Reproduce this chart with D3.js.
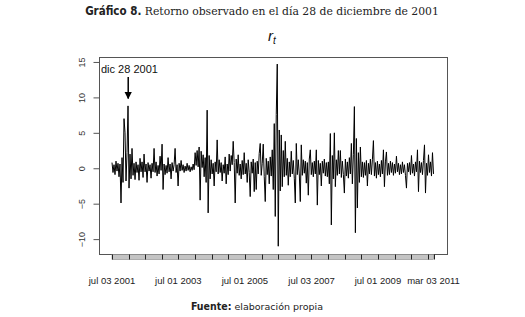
<!DOCTYPE html>
<html>
<head>
<meta charset="utf-8">
<script src="https://cdn.jsdelivr.net/npm/d3@7"></script>
<style>
  body { margin: 0; background: #fff; }
  svg { display: block; }
</style>
</head>
<body>
<div id="chart"></div>
<script>
const startDate = '2001-07-03';
const endDate = '2011-03-03';
const returns = [
  0.8, -0.6, 0.5, -0.9, 1.0, -0.4, 0.7, -1.2, 0.6, -4.9,
  1.5, -2.0, 7.0, 5.0, -1.8, 2.2, 8.8, -2.8, 2.0, -1.5,
  2.8, -1.0, 0.7, -1.6, 0.9, -0.6, 0.5, -1.7, 1.4, -0.5,
  0.9, -1.3, 2.0, -0.5, 0.6, -2.0, 0.8, -0.4, 0.5, -1.4,
  0.7, -0.5, 2.8, -0.6, 0.9, -1.1, 0.4, -0.8, 1.7, -0.3,
  3.4, -3.0, 0.6, -0.9, 0.4, -0.7, 1.5, -0.5, 0.6, -1.5,
  0.8, -0.4, 0.5, 2.8, -0.6, 0.5, -2.5, 0.7, -0.4, 1.1,
  -0.3, 0.5, -0.6, 0.3, -0.4, 0.7, -0.3, 0.4, -0.5, 0.2,
  -0.3, 0.6, -0.2, 2.2, 0.4, 2.5, 0.2, 3.0, -4.5, 2.4,
  0.1, 1.9, -1.2, 1.5, -2.0, 8.2, -6.3, 1.8, -1.5, 1.2,
  -0.8, 0.7, -2.5, 0.9, -0.5, 4.0, -0.8, 1.2, -0.6, 0.8,
  -1.8, 0.5, -0.7, 1.6, -2.2, 0.6, -0.9, 2.0, -0.4, 1.8,
  0.5, 3.8, 0.8, -4.9, 1.3, -0.7, 1.9, -1.0, 0.6, -1.5,
  1.1, -0.9, 2.2, -0.8, 0.7, -2.0, 1.2, -0.6, -4.0, 0.9,
  -0.7, 1.3, -3.3, 0.8, -3.0, 1.0, -0.8, 2.1, 3.5, -1.0,
  0.7, 3.4, -1.2, -4.7, 1.4, -0.9, 1.0, -2.2, 1.6, -1.1,
  2.6, -3.0, 6.3, -6.8, 7.6, 14.7, -11.0, 5.4, -3.2, 4.7,
  -2.6, 2.5, -1.2, 3.8, -1.0, 1.4, -2.4, 0.9, -1.2, 2.4,
  -0.8, 1.1, -1.4, -4.9, 3.5, -0.9, 1.2, -0.8, -4.7, 3.3,
  -1.0, 1.2, -0.7, 1.0, -2.1, 0.8, -3.8, 1.3, 2.6, -0.9,
  0.8, -1.2, 1.0, -0.8, 2.6, -5.2, 1.1, -0.9, 0.7, -2.5,
  1.0, -0.7, 1.3, -1.1, 0.8, -1.2, 0.9, -2.2, 4.9, -8.0,
  1.8, -1.5, 5.0, -2.6, 1.2, -1.0, 2.5, -0.8, 2.5, -1.3,
  1.0, -0.9, -3.5, 1.3, -1.1, 0.9, -1.4, 1.5, -0.8, 3.5,
  -2.2, 1.9, 8.7, -9.1, 4.2, -5.6, 2.2, -2.0, 3.0, -1.2,
  0.9, -1.3, 0.8, -1.0, 1.1, -2.5, 0.7, -0.8, 1.3, -0.9,
  1.2, 3.9, -1.1, 0.8, -1.4, 1.0, -0.9, 0.6, -1.2, 1.1,
  -0.8, 2.6, -2.6, 0.9, 2.3, -1.0, 0.7, -0.9, 1.0, -0.6,
  0.8, -1.0, 0.6, -0.7, 1.7, -0.5, 0.7, -0.9, 0.5, -0.8,
  0.9, -0.6, 0.5, -1.0, -2.8, 0.7, -0.5, 0.8, -0.9, 1.8,
  -0.7, 0.6, -1.1, 0.9, -0.5, 2.6, -3.3, 1.0, -0.6, 0.8,
  -0.9, 1.1, 3.3, -3.5, 0.7, -1.0, 1.9, -0.6, 0.9, -1.1,
  2.2, -0.8
];
const yTicks = [-10, -5, 0, 5, 10, 15];
const xLabelDates = ['2001-07-03', '2003-07-01', '2005-07-01', '2007-07-03', '2009-07-01', '2011-03-03'];
const xLabels = ['jul 03 2001', 'jul 01 2003', 'jul 01 2005', 'jul 03 2007', 'jul 01 2009', 'mar 03 2011'];
const annotDate = '2001-12-28';
const annotText = 'dic 28 2001';

const W = 525, H = 317;
const box = {left: 99, right: 447, top: 57, bottom: 254};
const parse = d3.timeParse('%Y-%m-%d');

const svg = d3.select('#chart').append('svg')
    .attr('width', W)
    .attr('height', H);

const t0 = parse(startDate), t1 = parse(endDate);
const dateAt = d3.scaleLinear().domain([0, returns.length - 1]).range([+t0, +t1]);
const data = returns.map((v, i) => ({date: new Date(dateAt(i)), value: v}));

const x = d3.scaleTime().domain([t0, t1]).range([112, 433.5]);
const y = d3.scaleLinear().domain([-12.1, 15.7]).range([box.bottom, box.top]);

// title
const title = svg.append('text')
    .attr('x', 262)
    .attr('y', 15)
    .attr('text-anchor', 'middle')
    .style('fill', '#222');
title.append('tspan')
    .style('font-family', "'Liberation Sans Narrow', 'DejaVu Sans Condensed', sans-serif")
    .style('font-weight', 'bold')
    .style('font-size', '11.5px')
    .text('Gráfico 8.');
title.append('tspan')
    .style('font-family', "'DejaVu Serif', serif")
    .style('font-size', '10.8px')
    .text(' Retorno observado en el día 28 de diciembre de 2001');

// r_t
const rt = svg.append('text')
    .attr('x', 272)
    .attr('y', 41)
    .attr('text-anchor', 'middle')
    .style('font-family', "'Liberation Sans', Arial, sans-serif")
    .style('font-style', 'italic')
    .style('font-size', '15px')
    .style('fill', '#111');
rt.append('tspan').text('r');
rt.append('tspan').attr('dy', 3).style('font-size', '10px').text('t');

// series
svg.append('path')
    .datum(data)
    .attr('d', d3.line().x(d => x(d.date)).y(d => y(d.value)))
    .style('fill', 'none')
    .style('stroke', '#000')
    .style('stroke-width', 1);

// frame
svg.append('rect')
    .attr('x', box.left + 0.5)
    .attr('y', box.top + 0.5)
    .attr('width', box.right - box.left)
    .attr('height', box.bottom - box.top)
    .style('fill', 'none')
    .style('stroke', '#555')
    .style('stroke-width', 1);

// y axis
const yAxis = svg.append('g')
    .attr('transform', `translate(${box.left + 0.5},0)`)
    .call(d3.axisLeft(y).tickValues(yTicks).tickSize(6));
yAxis.select('.domain').remove();
yAxis.selectAll('line').style('stroke', '#555');
yAxis.selectAll('text')
    .attr('transform', 'rotate(-90)')
    .attr('x', 0)
    .attr('y', -15)
    .attr('dy', '0')
    .style('text-anchor', 'middle')
    .style('font-family', "'Liberation Sans', Arial, sans-serif")
    .style('font-size', '9px')
    .style('fill', '#333');

// x axis: gray band with half-year ticks
const xa = svg.append('g');
xa.append('rect')
    .attr('x', x(t0))
    .attr('y', box.bottom + 0.5)
    .attr('width', x(t1) - x(t0))
    .attr('height', 5)
    .style('fill', '#c4c4c4')
    .style('stroke', '#8a8a8a')
    .style('stroke-width', 0.6);
const halfYears = [t0].concat(d3.timeMonth.every(6).range(t0, t1)).concat([t1]);
xa.selectAll('line.tk')
    .data(halfYears)
    .join('line')
    .attr('class', 'tk')
    .attr('x1', d => Math.round(x(d)) + 0.5)
    .attr('x2', d => Math.round(x(d)) + 0.5)
    .attr('y1', box.bottom + 0.5)
    .attr('y2', box.bottom + 5.5)
    .style('stroke', '#222')
    .style('stroke-width', 1);
xa.selectAll('text')
    .data(xLabelDates)
    .join('text')
    .attr('x', d => x(parse(d)))
    .attr('y', 284)
    .attr('text-anchor', 'middle')
    .style('font-family', "'Liberation Sans Narrow', 'Liberation Sans', Arial, sans-serif")
    .style('font-size', '9.5px')
    .style('fill', '#222')
    .text((d, i) => xLabels[i]);

// annotation
const ax = x(parse(annotDate));
svg.append('text')
    .attr('x', 101)
    .attr('y', 73)
    .style('font-family', "'Liberation Sans', Arial, sans-serif")
    .style('font-size', '11px')
    .style('fill', '#111')
    .text(annotText);
svg.append('defs').append('marker')
    .attr('id', 'ah')
    .attr('viewBox', '0 0 10 10')
    .attr('refX', 9)
    .attr('refY', 5)
    .attr('markerWidth', 5)
    .attr('markerHeight', 5)
    .attr('orient', 'auto')
    .append('path')
    .attr('d', 'M0,0L10,5L0,10Z')
    .style('fill', '#000');
svg.append('line')
    .attr('x1', ax)
    .attr('x2', ax)
    .attr('y1', 77)
    .attr('y2', 98.5)
    .attr('marker-end', 'url(#ah)')
    .style('stroke', '#000')
    .style('stroke-width', 1.5);

// source
const src = svg.append('text')
    .attr('x', 257)
    .attr('y', 310)
    .attr('text-anchor', 'middle')
    .style('fill', '#222');
src.append('tspan')
    .style('font-family', "'Liberation Sans Narrow', 'DejaVu Sans Condensed', sans-serif")
    .style('font-weight', 'bold')
    .style('font-size', '10.5px')
    .text('Fuente:');
src.append('tspan')
    .style('font-family', "'DejaVu Sans', sans-serif")
    .style('font-size', '9.5px')
    .text(' elaboración propia');
</script>
</body>
</html>
